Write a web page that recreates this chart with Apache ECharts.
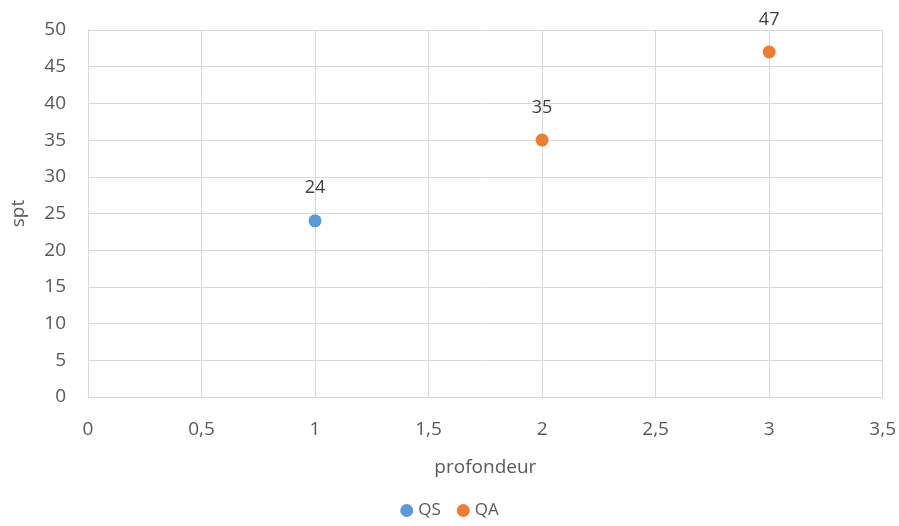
<!DOCTYPE html>
<html>
<head>
<meta charset="utf-8">
<script src="https://cdn.jsdelivr.net/npm/echarts@6/dist/echarts.min.js"></script>
<style>
  html, body { margin: 0; padding: 0; background: #fff; }
  #chart { width: 899px; height: 526px; }
</style>
</head>
<body>
<div id="chart"></div>
<script>
// Depth (profondeur) vs SPT values, two series
const qsDepth = [1];
const qsSpt = [24];
const qaDepth = [2, 3];
const qaSpt = [35, 47];

const seriesNames = ['QS', 'QA'];
const seriesColors = ['#5B9BD5', '#ED7D31'];
const xAxisTitle = 'profondeur';
const yAxisTitle = 'spt';

const textColor = '#595959';
const fontFamily = '"Open Sans", "Noto Sans", sans-serif';

function pairs(xs, ys) {
  return xs.map((x, i) => [x, ys[i]]);
}

function fmtComma(v) {
  return String(v).replace('.', ',');
}

const valueLabel = {
  show: true,
  position: 'top',
  distance: 17,
  fontSize: 18,
  color: '#404040',
  formatter: p => p.value[1]
};

const chart = echarts.init(document.getElementById('chart'));

chart.setOption({
  animation: false,
  textStyle: { fontFamily: fontFamily, color: textColor },
  grid: { left: 88, right: 13, top: 30, bottom: 129, containLabel: false },
  legend: {
    bottom: 2,
    left: 'center',
    itemWidth: 13,
    itemHeight: 13,
    itemGap: 16,
    textStyle: { fontSize: 17, color: textColor, fontFamily: fontFamily },
    data: seriesNames.map(n => ({ name: n, icon: 'circle' }))
  },
  xAxis: {
    type: 'value',
    min: 0,
    max: 3.5,
    interval: 0.5,
    name: xAxisTitle,
    nameLocation: 'middle',
    nameGap: 61,
    nameTextStyle: { fontSize: 19, color: textColor },
    axisLine: { show: true, lineStyle: { color: '#D9D9D9', width: 1 } },
    axisTick: { show: false },
    axisLabel: { fontSize: 19, color: textColor, margin: 23, formatter: fmtComma },
    splitLine: { show: true, lineStyle: { color: '#D9D9D9', width: 1 } }
  },
  yAxis: {
    type: 'value',
    min: 0,
    max: 50,
    interval: 5,
    name: yAxisTitle,
    nameLocation: 'middle',
    nameGap: 60,
    nameTextStyle: { fontSize: 19, color: textColor },
    axisLine: { show: true, lineStyle: { color: '#D9D9D9', width: 1 } },
    axisTick: { show: false },
    axisLabel: { fontSize: 19, color: textColor, margin: 22 },
    splitLine: { show: true, lineStyle: { color: '#D9D9D9', width: 1 } }
  },
  series: [
    {
      name: seriesNames[0],
      type: 'scatter',
      symbol: 'circle',
      symbolSize: 13,
      itemStyle: { color: seriesColors[0], opacity: 1 },
      data: pairs(qsDepth, qsSpt),
      label: valueLabel
    },
    {
      name: seriesNames[1],
      type: 'scatter',
      symbol: 'circle',
      symbolSize: 13,
      itemStyle: { color: seriesColors[1], opacity: 1 },
      data: pairs(qaDepth, qaSpt),
      label: valueLabel
    }
  ]
});
</script>
</body>
</html>
